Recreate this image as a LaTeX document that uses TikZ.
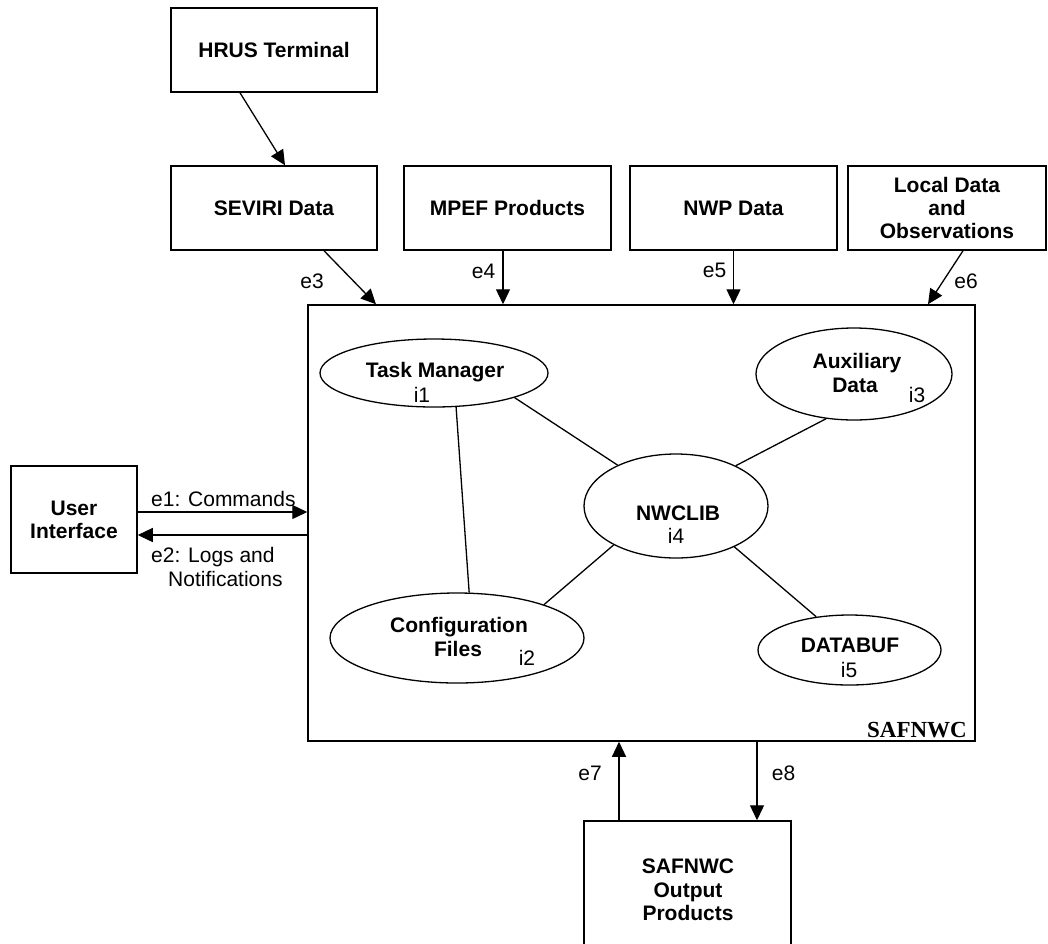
\documentclass[tikz,border=0pt]{standalone}
\usepackage{fontspec}
\setmainfont{Liberation Sans}
\newfontfamily\serifbold{Liberation Serif}
\usetikzlibrary{shapes.geometric,arrows.meta,calc}
\begin{document}
\begin{tikzpicture}[x=1pt,y=-1pt,
  every node/.style={font=\fontsize{21}{23}\selectfont},
  box/.style={draw, line width=1.5pt, rectangle, inner sep=0pt, align=center, font=\fontsize{21}{23}\selectfont\bfseries},
  ell/.style={draw, line width=1.3pt, ellipse, inner sep=0pt},
  nm/.style={anchor=base, inner sep=0pt, font=\fontsize{21}{23}\selectfont\bfseries},
  txt/.style={anchor=base, inner sep=0pt},
  arr/.style={line width=1.3pt, -{Triangle[length=15pt,width=14pt]}},
  ln/.style={line width=1.3pt}]
\clip (0,0) rectangle (1048,943);
\fill[white] (0,0) rectangle (1048,943);

% boxes
\node[box, minimum width=206, minimum height=84] (hrus) at (274,50) {HRUS Terminal};
\node[box, minimum width=206, minimum height=84] (seviri) at (274,208) {SEVIRI Data};
\node[box, minimum width=207, minimum height=84] (mpef) at (507.5,208) {MPEF Products};
\node[box, minimum width=207, minimum height=84] (nwp) at (733.5,208) {NWP Data};
\node[box, minimum width=198, minimum height=84] (local) at (947,208) {Local Data\\and\\Observations};
\node[box, minimum width=126, minimum height=107] (ui) at (74,519.5) {User\\Interface};
\node[box, minimum width=667, minimum height=436] (main) at (641.5,523) {};
\node[box, minimum width=207, minimum height=158] (out) at (687.5,900) {};
\node[nm] at (688,873) {SAFNWC};
\node[nm] at (688,897) {Output};
\node[nm] at (688,920) {Products};
\node[anchor=base east, inner sep=0pt, font=\serifbold\fontsize{23}{25}\selectfont\bfseries] at (967,737) {SAFNWC};

% ellipses
\node[ell, minimum width=228, minimum height=68] (tm) at (434,373) {};
\node[nm] at (435,377) {Task Manager};
\node[txt] at (422,402) {i1};
\node[ell, minimum width=254, minimum height=90] (cf) at (457,638) {};
\node[nm] at (459,632) {Configuration};
\node[nm] at (458,656) {Files};
\node[txt] at (527,665) {i2};
\node[ell, minimum width=196, minimum height=92] (aux) at (854,374) {};
\node[nm] at (857,368) {Auxiliary};
\node[nm] at (855,392) {Data};
\node[txt] at (917,402) {i3};
\node[ell, minimum width=184, minimum height=104] (lib) at (676,506) {};
\node[nm] at (678,520) {NWCLIB};
\node[txt] at (676,543) {i4};
\node[ell, minimum width=183, minimum height=70] (dbuf) at (849.5,650) {};
\node[nm] at (850,652) {DATABUF};
\node[txt] at (849,677) {i5};

% internal links
\draw[ln] (tm.-17) -- (lib.145);
\draw[ln] (tm.-57) -- (cf.75);
\draw[ln] (lib.34) -- (aux.238);
\draw[ln] (lib.212) -- (cf.21);
\draw[ln] (lib.-35) -- (dbuf.135);

% arrows
\draw[arr] ($(hrus.south)+(-34,0)$) -- ($(seviri.north)+(11,0)$);
\draw[arr] ($(seviri.south)+(50,0)$) -- ($(main.north)+(-265.5,0)$);
\coordinate (e4s) at ($(mpef.south)+(-4.5,0)$);
\draw[arr] (e4s) -- (main.north -| e4s);
\draw[arr] (nwp.south) -- (main.north -| nwp.south);
\draw[arr] ($(local.south)+(16,0)$) -- ($(main.north)+(286.5,0)$);
\coordinate (e1s) at ($(ui.east)+(0,-7.5)$);
\draw[arr] (e1s) -- (main.west |- e1s);
\coordinate (e2s) at ($(ui.east)+(0,15.5)$);
\draw[arr] (main.west |- e2s) -- (e2s);
\coordinate (e7s) at ($(out.north)+(-68.5,0)$);
\draw[arr] (e7s) -- (main.south -| e7s);
\coordinate (e8s) at ($(out.north)+(69.5,0)$);
\draw[arr] (main.south -| e8s) -- (e8s);

% labels
\node[txt] at (312,288) {e3};
\node[txt] at (483.5,278) {e4};
\node[txt] at (714.5,277) {e5};
\node[txt] at (966,288) {e6};
\node[txt] at (590,780) {e7};
\node[txt] at (783.5,780) {e8};
\node[txt, anchor=base west] at (151,506) {e1: Commands};
\node[txt, anchor=base west] at (151,562) {e2: Logs and};
\node[txt, anchor=base west] at (168,586) {Notifications};
\end{tikzpicture}
\end{document}
